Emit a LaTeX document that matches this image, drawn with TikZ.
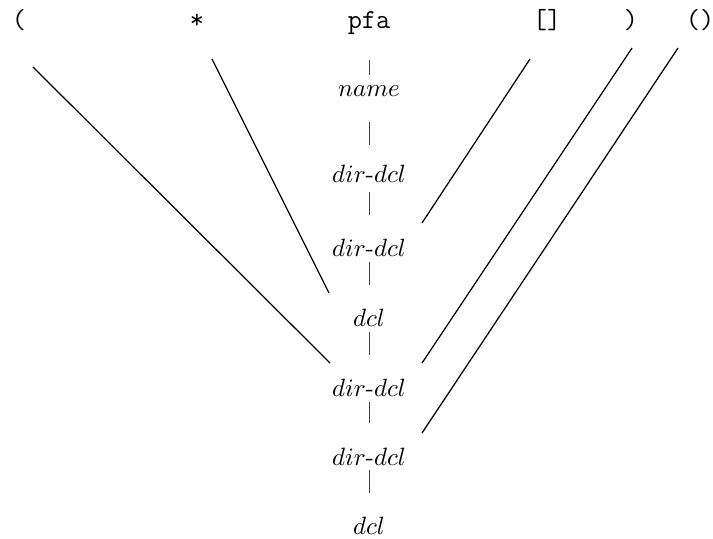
\documentclass[tikz,border=0pt]{standalone}
\begin{document}
\begin{tikzpicture}[x=0.4pt,y=-0.4pt,
  lbl/.style={anchor=base,inner sep=0pt,font=\fontsize{10}{12}\selectfont},
  tok/.style={anchor=base,inner sep=0pt,font=\fontsize{11}{13}\selectfont\ttfamily},
  ln/.style={line width=0.5pt,black},
  bar/.style={line width=0.35pt,black!75}]
\useasboundingbox (0,0) rectangle (713,539);
% top tokens
\node[tok] (lp)   at (19,29)  {(};
\node[tok] (star) at (197,29) {*};
\node[tok] (pfa)  at (369,29) {pfa};
\node[tok] (br)   at (547,29) {[]};
\node[tok] (rp)   at (631,29) {)};
\node[tok] (pp)   at (700,29) {()};
% middle column
\node[lbl] (name) at (369,97)  {$name$};
\node[lbl] (dd1)  at (369,183) {$dir$-$dcl$};
\node[lbl] (dd2)  at (369,256) {$dir$-$dcl$};
\node[lbl] (dc1)  at (369,326) {$dcl$};
\node[lbl] (dd3)  at (369,396) {$dir$-$dcl$};
\node[lbl] (dd4)  at (369,465) {$dir$-$dcl$};
\node[lbl] (dc2)  at (369,534) {$dcl$};
% vertical bars
\draw[bar] ([shift={(0,31)}]pfa.base)  -- ([shift={(0,-22)}]name.base);
\draw[bar] ([shift={(0,25)}]name.base) -- ([shift={(0,-38)}]dd1.base);
\draw[bar] ([shift={(0,9)}]dd1.base)   -- ([shift={(0,-41)}]dd2.base);
\draw[bar] ([shift={(0,6)}]dd2.base)   -- ([shift={(0,-41)}]dc1.base);
\draw[bar] ([shift={(0,6)}]dc1.base)   -- ([shift={(0,-41)}]dd3.base);
\draw[bar] ([shift={(0,6)}]dd3.base)   -- ([shift={(0,-42)}]dd4.base);
\draw[bar] ([shift={(0,5)}]dd4.base)   -- ([shift={(0,-41)}]dc2.base);
% diagonals
\draw[ln] ([shift={(14,38)}]lp.base)   -- ([shift={(-39,-33)}]dd3.base);
\draw[ln] ([shift={(15,30)}]star.base) -- ([shift={(-40,-33)}]dc1.base);
\draw[ln] ([shift={(-17,30)}]br.base)  -- ([shift={(53,-33)}]dd2.base);
\draw[ln] ([shift={(1,19)}]rp.base)    -- ([shift={(53,-33)}]dd3.base);
\draw[ln] ([shift={(-22,19)}]pp.base)  -- ([shift={(53,-32)}]dd4.base);
\end{tikzpicture}
\end{document}
